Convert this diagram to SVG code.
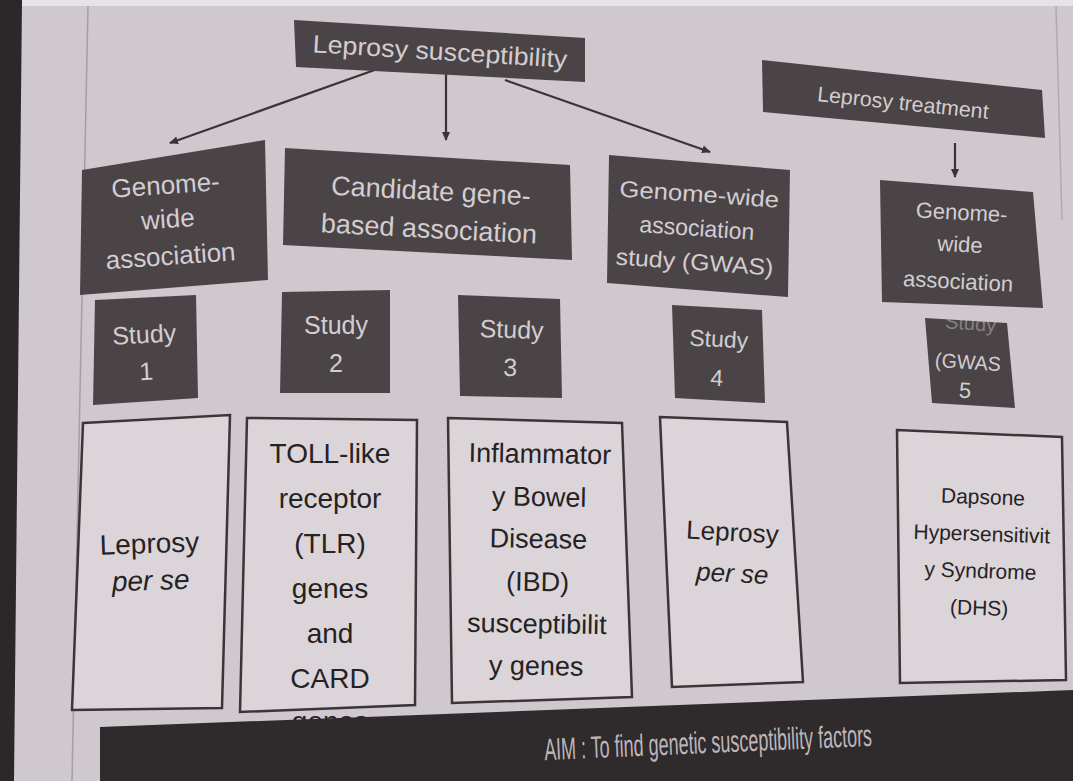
<svg xmlns="http://www.w3.org/2000/svg" width="1073" height="781" viewBox="0 0 1073 781">
<defs>
<style>
.bg{fill:#cfc8ce}
.dark{fill:#4a4446}
.light{fill:#dbd5d9;stroke:#3b3537;stroke-width:2.5}
.dt{font-family:"Liberation Sans",Arial,sans-serif;fill:#d3cdd1;text-anchor:middle}
.lt{font-family:"Liberation Sans",Arial,sans-serif;fill:#262224;text-anchor:middle}
.conn{stroke:#3a3436;stroke-width:2.2;fill:none;marker-end:url(#ah)}
</style>
<marker id="ah" markerWidth="10" markerHeight="10" refX="8" refY="5" orient="auto" markerUnits="userSpaceOnUse">
<path d="M0,1 L9,5 L0,9 Z" fill="#3a3436"/>
</marker>
</defs>
<rect class="bg" x="0" y="0" width="1073" height="781"/>
<rect x="0" y="0" width="1073" height="6" fill="#e6e3e8"/>
<polygon points="0,0 22,0 14,781 0,781" fill="#2c2729"/>
<line x1="88" y1="6" x2="72" y2="781" stroke="#a59ea3" stroke-width="1.5"/>
<line x1="1056" y1="6" x2="1062" y2="220" stroke="#b0aaae" stroke-width="1.5"/>

<g id="connectors">
<line class="conn" x1="383" y1="67" x2="170" y2="143"/>
<line class="conn" x1="446" y1="72" x2="446" y2="140"/>
<line class="conn" x1="505" y1="80" x2="710" y2="152"/>
<line class="conn" x1="955" y1="143" x2="955" y2="177"/>
</g>

<g id="leprosy-susceptibility">
<polygon class="dark" points="294,20 585,38 585,82 296,67"/>
<text class="dt" x="440" y="60" font-size="25" textLength="255" lengthAdjust="spacingAndGlyphs" transform="rotate(3.5 440 52)">Leprosy susceptibility</text>
</g>

<g id="leprosy-treatment">
<polygon class="dark" points="762,60 1042,90 1045,138 763,112"/>
<text class="dt" x="903" y="110" font-size="21" textLength="172" lengthAdjust="spacingAndGlyphs" transform="rotate(6 903 103)">Leprosy treatment</text>
<text class="dt" x="910" y="147" font-size="17" fill-opacity="0.6" transform="rotate(5 910 142)">response</text>
</g>

<g id="gwa1">
<polygon class="dark" points="82,170 265,140 268,280 80,295"/>
<g transform="rotate(-4 165 220)">
<text class="dt" x="168" y="194" font-size="26">Genome-</text>
<text class="dt" x="168" y="228" font-size="26">wide</text>
<text class="dt" x="168" y="265" font-size="26">association</text>
</g>
</g>

<g id="candidate">
<polygon class="dark" points="285,148 570,165 572,260 283,245"/>
<g transform="rotate(3 430 210)">
<text class="dt" x="430" y="200" font-size="27">Candidate gene-</text>
<text class="dt" x="430" y="238" font-size="27">based association</text>
</g>
</g>

<g id="gwas">
<polygon class="dark" points="609,155 790,170 788,297 607,283"/>
<g transform="rotate(4 697 228)">
<text class="dt" x="697" y="202" font-size="23" textLength="160" lengthAdjust="spacingAndGlyphs">Genome-wide</text>
<text class="dt" x="697" y="236" font-size="23">association</text>
<text class="dt" x="697" y="270" font-size="23" textLength="158" lengthAdjust="spacingAndGlyphs">study (GWAS)</text>
</g>
</g>

<g id="gwa5">
<polygon class="dark" points="880,180 1033,192 1043,308 882,302"/>
<g transform="rotate(3 962 245)">
<text class="dt" x="960" y="220" font-size="22">Genome-</text>
<text class="dt" x="960" y="252" font-size="22">wide</text>
<text class="dt" x="960" y="289" font-size="22">association</text>
</g>
</g>

<g id="study1">
<polygon class="dark" points="95,300 196,295 198,398 93,405"/>
<g transform="rotate(-3 145 350)">
<text class="dt" x="145" y="343" font-size="25">Study</text>
<text class="dt" x="145" y="380" font-size="25">1</text>
</g>
</g>

<g id="study2">
<polygon class="dark" points="282,292 390,290 390,393 280,393"/>
<text class="dt" x="336" y="334" font-size="25">Study</text>
<text class="dt" x="336" y="372" font-size="25">2</text>
</g>

<g id="study3">
<polygon class="dark" points="458,295 560,299 562,398 460,396"/>
<g transform="rotate(2 510 348)">
<text class="dt" x="511" y="338" font-size="25">Study</text>
<text class="dt" x="511" y="376" font-size="25">3</text>
</g>
</g>

<g id="study4">
<polygon class="dark" points="672,305 762,310 765,403 675,398"/>
<g transform="rotate(3 718 355)">
<text class="dt" x="718" y="347" font-size="23">Study</text>
<text class="dt" x="718" y="386" font-size="23">4</text>
</g>
</g>

<g id="study5">
<polygon class="dark" points="925,318 1007,323 1015,408 932,403"/>
<g transform="rotate(4 968 362)">
<text class="dt" x="968" y="330" font-size="20" fill-opacity="0.45">Study</text>
<text class="dt" x="968" y="369" font-size="20" textLength="66" lengthAdjust="spacingAndGlyphs">(GWAS</text>
<text class="dt" x="967" y="398" font-size="22">5</text>
</g>
</g>

<text class="lt" x="330" y="731" font-size="28">genes</text>

<g id="box-leprosy1">
<polygon class="light" points="83,423 230,415 222,708 72,710"/>
<g transform="rotate(-2 150 560)">
<text class="lt" x="150" y="553" font-size="28">Leprosy</text>
<text class="lt" x="150" y="590" font-size="28" font-style="italic">per se</text>
</g>
</g>

<g id="box-tlr">
<polygon class="light" points="247,418 417,420 415,705 240,712"/>
<g font-size="28">
<text class="lt" x="330" y="463">TOLL-like</text>
<text class="lt" x="330" y="508">receptor</text>
<text class="lt" x="330" y="553">(TLR)</text>
<text class="lt" x="330" y="598">genes</text>
<text class="lt" x="330" y="643">and</text>
<text class="lt" x="330" y="688">CARD</text>
</g>
</g>

<g id="box-ibd">
<polygon class="light" points="448,418 622,423 632,697 452,703"/>
<g transform="rotate(1 538 560)" font-size="27">
<text class="lt" x="538" y="463">Inflammator</text>
<text class="lt" x="538" y="506">y Bowel</text>
<text class="lt" x="538" y="548">Disease</text>
<text class="lt" x="538" y="591">(IBD)</text>
<text class="lt" x="538" y="633">susceptibilit</text>
<text class="lt" x="538" y="675">y genes</text>
</g>
</g>

<g id="box-leprosy4">
<polygon class="light" points="660,417 787,422 803,682 672,687"/>
<g transform="rotate(3 731 560)" font-size="26">
<text class="lt" x="731" y="541">Leprosy</text>
<text class="lt" x="733" y="582" font-style="italic">per se</text>
</g>
</g>

<g id="box-dhs">
<polygon class="light" points="897,430 1062,437 1066,680 900,683"/>
<g transform="rotate(2 980 555)" font-size="21">
<text class="lt" x="981" y="504">Dapsone</text>
<text class="lt" x="981" y="541">Hypersensitivit</text>
<text class="lt" x="981" y="578">y Syndrome</text>
<text class="lt" x="981" y="615">(DHS)</text>
</g>
</g>

<g id="aim-banner">
<polygon points="100,727 1073,690 1073,781 100,781" fill="#2f2a2c"/>
<text x="708" y="753" font-family="Liberation Sans, Arial, sans-serif" font-size="31" fill="#bdb6ba" text-anchor="middle" textLength="328" lengthAdjust="spacingAndGlyphs" transform="rotate(-2.5 708 742)">AIM : To find genetic susceptibility factors</text>
</g>
</svg>
